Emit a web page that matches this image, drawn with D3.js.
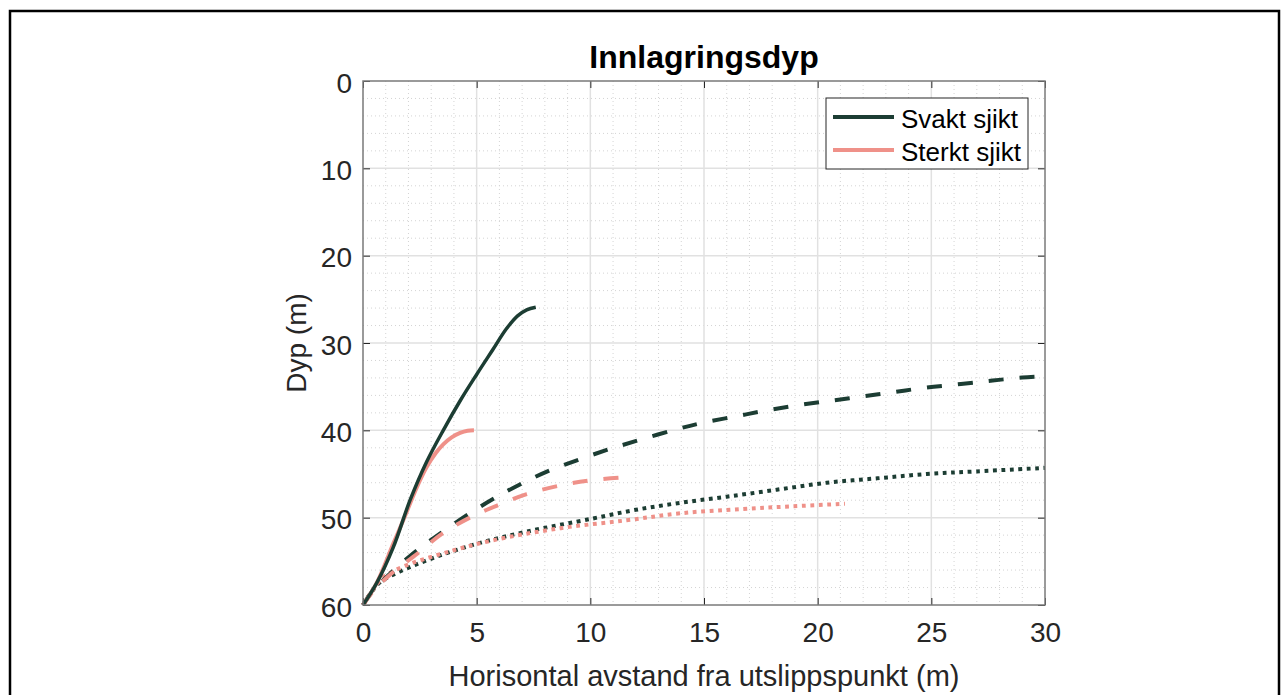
<!DOCTYPE html>
<html><head><meta charset="utf-8">
<script src="https://cdn.jsdelivr.net/npm/d3@7"></script>
<style>body{margin:0;background:#fff}svg{display:block}text{font-family:"Liberation Sans",Arial,sans-serif;fill:#262626}</style>
</head><body><svg id="c" width="1282" height="695"></svg>
<script>
// ---- data ----
const xTicks = [0,5,10,15,20,25,30];
const yTicks = [0,10,20,30,40,50,60];
const seriesNames = ["Svakt sjikt","Sterkt sjikt"];
const seriesColors = ["#1c3d33","#ef9189"];
// [x (m), depth (m)]
const svaktSolid = [[0,60],[0.6,57.5],[1.33,53.4],[2.07,48],[2.8,43.6],[3.53,40],[4.3,36.5],[5.0,33.6],[5.7,30.8],[6.3,28.4],[6.8,26.9],[7.2,26.2],[7.6,25.9]];
const sterktSolid = [[0,60],[0.6,57.5],[1.33,53],[1.77,50.3],[2.37,46.5],[2.8,44.2],[3.2,42.6],[3.53,41.6],[3.9,40.8],[4.27,40.3],[4.6,40.05],[4.88,40.0]];
const svaktDashed = [[0,60],[0.45,58.3],[1.2,56.4],[2.2,54.1],[3.4,51.8],[4.7,49.5],[5.7,47.9],[6.9,46.2],[8.2,44.6],[9.55,43.3],[10.9,42.1],[12.3,41.0],[13.9,39.8],[15.0,39.1],[16.4,38.4],[17.8,37.7],[19.2,37.1],[20.6,36.6],[22.0,36.1],[23.4,35.6],[24.8,35.1],[26.3,34.7],[27.7,34.3],[29.0,33.95],[30,33.8]];
const sterktDashed = [[0,60],[0.45,58.4],[1.2,56.5],[2.4,54.1],[3.5,51.8],[4.85,49.8],[6.0,48.5],[7.2,47.3],[8.7,46.3],[10.1,45.7],[11.45,45.4]];
const svaktDotted = [[0,60],[0.35,58.6],[0.75,57.4],[1.6,56.2],[3.1,54.6],[5.0,53.0],[7.2,51.6],[10.1,50.1],[12.0,49.1],[13.95,48.3],[16.0,47.6],[18.2,46.8],[20.4,46.0],[22.6,45.5],[24.8,45.0],[27.0,44.7],[30,44.3]];
const sterktDotted = [[0,60],[0.4,58.4],[0.9,56.8],[1.77,55.6],[3.5,54.1],[5.7,52.6],[8.7,51.2],[11.6,50.3],[13.95,49.5],[16.7,49.0],[18.9,48.7],[21.2,48.4]];

const svg = d3.select("#c");
// figure border
svg.append("rect").attr("x",10).attr("y",11).attr("width",1269).attr("height",700)
  .attr("fill","none").attr("stroke","#000").attr("stroke-width",2.5);

const L=363,R=1045,T=81,B=605;
const x = d3.scaleLinear().domain([0,30]).range([L,R]);
const y = d3.scaleLinear().domain([0,60]).range([T,B]);

const g = svg.append("g");
// minor grid
g.append("g").selectAll("line").data(d3.range(0,31,1).filter(v=>v%5)).join("line")
  .attr("x1",d=>x(d)).attr("x2",d=>x(d)).attr("y1",T).attr("y2",B)
  .attr("stroke","#d4d4d4").attr("stroke-width",1).attr("stroke-dasharray","1,3");
g.append("g").selectAll("line").data(d3.range(0,61,2).filter(v=>v%10)).join("line")
  .attr("y1",d=>y(d)).attr("y2",d=>y(d)).attr("x1",L).attr("x2",R)
  .attr("stroke","#d4d4d4").attr("stroke-width",1).attr("stroke-dasharray","1,3");
// major grid
g.append("g").selectAll("line").data(xTicks.slice(1,-1)).join("line")
  .attr("x1",d=>x(d)).attr("x2",d=>x(d)).attr("y1",T).attr("y2",B)
  .attr("stroke","#e1e1e1").attr("stroke-width",1.5);
g.append("g").selectAll("line").data(yTicks.slice(1,-1)).join("line")
  .attr("y1",d=>y(d)).attr("y2",d=>y(d)).attr("x1",L).attr("x2",R)
  .attr("stroke","#e1e1e1").attr("stroke-width",1.5);

// lines
const lineN = d3.line().x(d=>x(d[0])).y(d=>y(d[1])).curve(d3.curveCatmullRom);
const specs = [
  {d:svaktDotted,c:0,dash:"3.8,4.6",w:4},
  {d:sterktDotted,c:1,dash:"3.8,4.6",w:4},
  {d:svaktDashed,c:0,dash:"15,16",w:4},
  {d:sterktDashed,c:1,dash:"15,16",w:4},
  {d:sterktSolid,c:1,dash:null,w:4},
  {d:svaktSolid,c:0,dash:null,w:3.5},
];
specs.forEach(s=>{
  g.append("path").attr("d",lineN(s.d)).attr("fill","none")
   .attr("stroke",seriesColors[s.c]).attr("stroke-width",s.w)
   .attr("stroke-dasharray",s.dash).attr("stroke-linejoin","round");
});

// axes box + inward ticks
const ax = svg.append("g");
const styleText = a=>{a.select(".domain").remove();a.selectAll("line").attr("stroke","#262626");a.selectAll("text").attr("font-size",28).attr("fill","#262626").style("font-family","Liberation Sans, Arial");};
ax.append("g").attr("transform",`translate(0,${B})`)
  .call(d3.axisBottom(x).tickValues(xTicks).tickSizeInner(-7).tickSizeOuter(0).tickPadding(17))
  .call(styleText);
ax.append("g").attr("transform",`translate(0,${T})`)
  .call(d3.axisTop(x).tickValues(xTicks).tickSizeInner(-7).tickSizeOuter(0).tickFormat(""))
  .call(a=>{a.select(".domain").remove();a.selectAll("line").attr("stroke","#262626");});
ax.append("g").attr("transform",`translate(${L},0)`)
  .call(d3.axisLeft(y).tickValues(yTicks).tickSizeInner(-7).tickSizeOuter(0).tickPadding(11))
  .call(styleText)
  .call(a=>a.selectAll("text").attr("dy","0.4em"));
ax.append("g").attr("transform",`translate(${R},0)`)
  .call(d3.axisRight(y).tickValues(yTicks).tickSizeInner(-7).tickSizeOuter(0).tickFormat(""))
  .call(a=>{a.select(".domain").remove();a.selectAll("line").attr("stroke","#262626");});
ax.append("rect").attr("x",L).attr("y",T).attr("width",R-L).attr("height",B-T)
  .attr("fill","none").attr("stroke","#7a7a7a").attr("stroke-width",1.5);

// titles
svg.append("text").attr("x",(L+R)/2).attr("y",68).attr("text-anchor","middle")
  .attr("font-size",32).attr("font-weight","bold").style("fill","#000").text("Innlagringsdyp");
svg.append("text").attr("x",(L+R)/2).attr("y",686).attr("text-anchor","middle")
  .attr("font-size",29).text("Horisontal avstand fra utslippspunkt (m)");
svg.append("text").attr("transform",`translate(306,${(T+B)/2}) rotate(-90)`).attr("text-anchor","middle")
  .attr("font-size",28).text("Dyp (m)");

// legend
const lg = svg.append("g");
lg.append("rect").attr("x",826).attr("y",98).attr("width",202).attr("height",71)
  .attr("fill","#fff").attr("stroke","#262626").attr("stroke-width",1);
seriesNames.forEach((n,i)=>{
  const yy = 117 + i*33;
  lg.append("line").attr("x1",833).attr("x2",894).attr("y1",yy).attr("y2",yy)
    .attr("stroke",seriesColors[i]).attr("stroke-width",4);
  lg.append("text").attr("x",901).attr("y",yy+11).attr("font-size",26).style("fill","#000").text(n);
});
</script></body></html>
